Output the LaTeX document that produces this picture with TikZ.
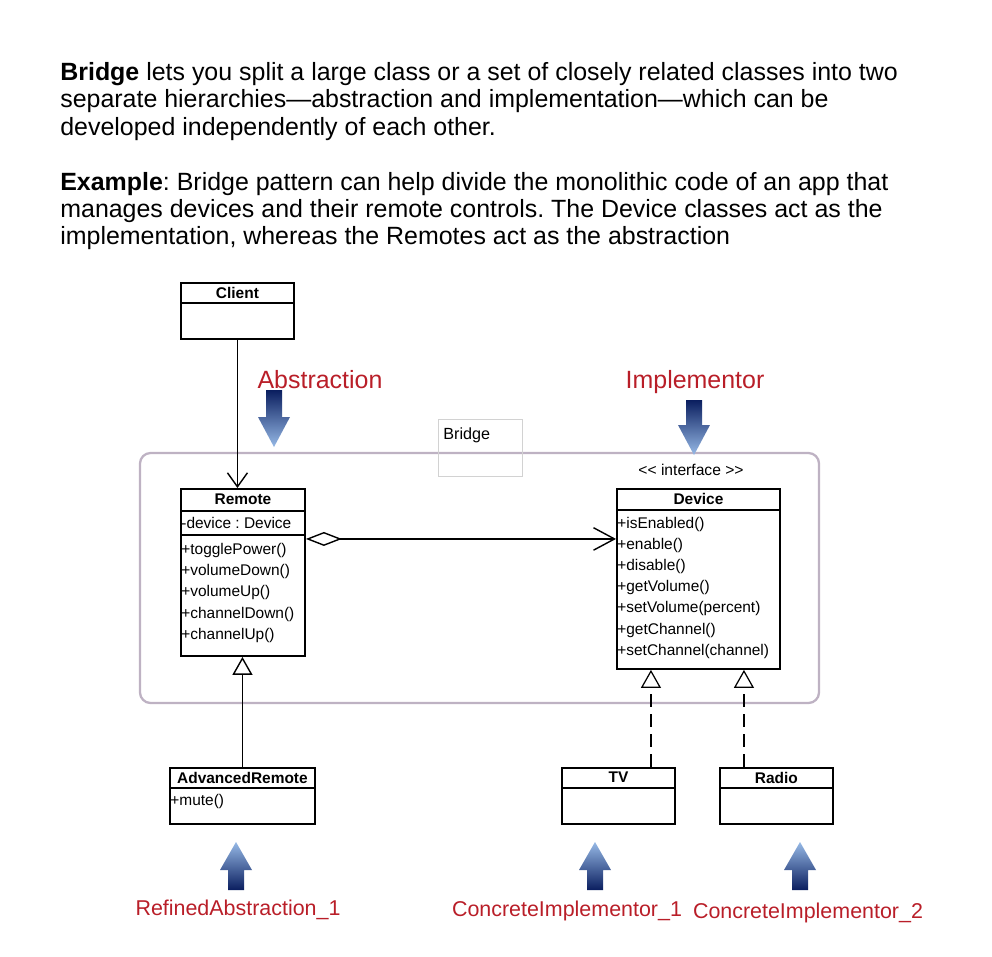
\documentclass[tikz,border=0pt]{standalone}
\usepackage{fontspec}
\setmainfont{Liberation Sans}
\usetikzlibrary{arrows.meta,positioning,calc,shadings}

\definecolor{labelred}{RGB}{185,30,40}
\definecolor{frameline}{RGB}{190,178,195}
\definecolor{arrowlight}{RGB}{150,185,230}
\definecolor{arrowmid}{RGB}{50,95,165}
\definecolor{arrowdark}{RGB}{10,30,95}

\tikzset{
  classbox/.style={draw, line width=1.1pt, anchor=north west, inner sep=0pt},
  member/.style={anchor=west, inner sep=0pt, font=\fontsize{8.8}{10}\selectfont},
  classname/.style={inner sep=0pt, font=\bfseries\fontsize{8.8}{10}\selectfont},
  rolelabel/.style={text=labelred, inner sep=0pt, font=\fontsize{14.2}{16}\selectfont},
  sublabel/.style={text=labelred, inner sep=0pt, font=\fontsize{12.2}{14}\selectfont},
  splitline/.style={line width=0.6pt},
  link/.style={line width=0.8pt},
  realize/.style={line width=0.7pt, dash pattern=on 7.4pt off 4pt},
  pics/bluearrow/.style={code={
    \shade[top color=arrowlight, middle color=arrowmid, bottom color=arrowdark]
      (0,0) -- (16,28) -- (8,28) -- (8,#1) -- (-8,#1) -- (-8,28) -- (-16,28) -- cycle;
  }},
  pics/bluedownarrow/.style={code={
    \shade[top color=arrowdark, middle color=arrowmid, bottom color=arrowlight]
      (0,0) -- (16,-30) -- (8,-30) -- (8,-#1) -- (-8,-#1) -- (-8,-30) -- (-16,-30) -- cycle;
  }}
}

\begin{document}
\frenchspacing
\begin{tikzpicture}[x=0.02cm, y=-0.02cm]
  \useasboundingbox (0,0) rectangle (992,957);

  % intro text
  \node[anchor=north west, align=left, inner sep=0pt, font=\fontsize{14.2}{15.6}\selectfont] (intro) at (60,62)
    {\textbf{Bridge} lets you split a large class or a set of closely related classes into two\\
     separate hierarchies—abstraction and implementation—which can be\\
     developed independently of each other.\\[15.6pt]
     \textbf{Example}: Bridge pattern can help divide the monolithic code of an app that\\
     manages devices and their remote controls. The Device classes act as the\\
     implementation, whereas the Remotes act as the abstraction};

  % bridge frame
  \draw[frameline, line width=1.3pt, rounded corners=6pt] (140,453) rectangle (819,703);
  \node[draw=gray!35, line width=0.6pt, minimum width=1.68cm, minimum height=1.14cm, anchor=north west, inner sep=0pt] (bridgebox) at (438,419) {};
  \node[anchor=west, inner sep=0pt, font=\fontsize{9.2}{11}\selectfont] (bridgetext) at (443,435) {Bridge};

  % classes with empty body
  \foreach \name/\title/\x/\y in {client/Client/180/282, tv/TV/561/767, radio/Radio/719/767}{
    \node[classbox, minimum width=2.26cm, minimum height=1.12cm] (\name) at (\x,\y) {};
    \node[classname] (\name-title) at ($(\name.north)+(0,10.5)$) {\title};
    \draw[splitline] ($(\name.north west)+(0,21)$) -- ($(\name.north east)+(0,21)$);
  }

  % Remote
  \node[classbox, minimum width=2.48cm, minimum height=3.34cm] (remote) at (180,488) {};
  \node[classname] (remote-title) at ($(remote.north)+(0,11)$) {Remote};
  \draw[splitline] ($(remote.north west)+(0,23)$) -- ($(remote.north east)+(0,23)$);
  \node[member] (remote-attr) at (181,523) {-device : Device};
  \draw[splitline] ($(remote.north west)+(0,47)$) -- ($(remote.north east)+(0,47)$);
  \foreach \m [count=\i] in {togglePower(), volumeDown(), volumeUp(), channelDown(), channelUp()}
    \node[member] (remote-m\i) at (181,{529+21.25*\i}) {+\m};

  % Device
  \node[inner sep=0pt, font=\fontsize{8.9}{10}\selectfont] (stereo) at (691,470) {<{}< interface >{}>};
  \node[classbox, minimum width=3.26cm, minimum height=3.6cm] (device) at (616,488) {};
  \node[classname] (device-title) at ($(device.north)+(0,11)$) {Device};
  \draw[splitline] ($(device.north west)+(0,22)$) -- ($(device.north east)+(0,22)$);
  \foreach \m [count=\i] in {isEnabled(), enable(), disable(), getVolume(), setVolume(percent), getChannel(), setChannel(channel)}
    \node[member] (device-m\i) at (617,{503+21.17*\i}) {+\m};

  % AdvancedRemote
  \node[classbox, minimum width=2.9cm, minimum height=1.12cm] (adv) at (169,767) {};
  \node[classname] (adv-title) at ($(adv.north)+(0,10.5)$) {AdvancedRemote};
  \draw[splitline] ($(adv.north west)+(0,21)$) -- ($(adv.north east)+(0,21)$);
  \node[member] (adv-m1) at (170,801) {+mute()};

  % connectors
  \draw[link, -{Straight Barb[length=0.28cm, width=0.4cm]}] (client.south) -- (client.south |- remote.north);
  \coordinate (aggstart) at ($(remote.east)+(0,-33.5)$);
  \draw[link, {Diamond[open, length=0.72cm, width=0.28cm]}-{Straight Barb[length=0.42cm, width=0.45cm]}]
    (aggstart) -- (aggstart -| device.west);
  \draw[link, -{Triangle[open, length=0.36cm, width=0.4cm]}] (adv.north) -- (adv.north |- remote.south);
  \coordinate (tvtop) at ($(tv.north)+(32.5,0)$);
  \draw[realize, -{Triangle[open, length=0.36cm, width=0.4cm]}] (tvtop) -- (tvtop |- device.south);
  \coordinate (radiotop) at ($(radio.north)+(-32.5,0)$);
  \draw[realize, line width=1.2pt, -{Triangle[open, length=0.36cm, width=0.4cm, line width=0.7pt]}] (radiotop) -- (radiotop |- device.south);

  % role labels
  \node[rolelabel] (abstraction) at (320,380) {Abstraction};
  \node[rolelabel] (implementor) at (695,382) {Implementor};
  \pic (absarrow) at (274,447) {bluedownarrow=57};
  \pic (implarrow) at (694,455) {bluedownarrow=55};
  \pic (refinedarrow) at (236,842) {bluearrow=48};
  \pic (concrete1arrow) at (595,842) {bluearrow=48};
  \pic (concrete2arrow) at (800,842) {bluearrow=48};
  \node[sublabel] (refined) at (238,910) {RefinedAbstraction\_1};
  \node[sublabel] (concrete1) at (567,911) {ConcreteImplementor\_1};
  \node[sublabel] (concrete2) at (808,913) {ConcreteImplementor\_2};
\end{tikzpicture}
\end{document}
